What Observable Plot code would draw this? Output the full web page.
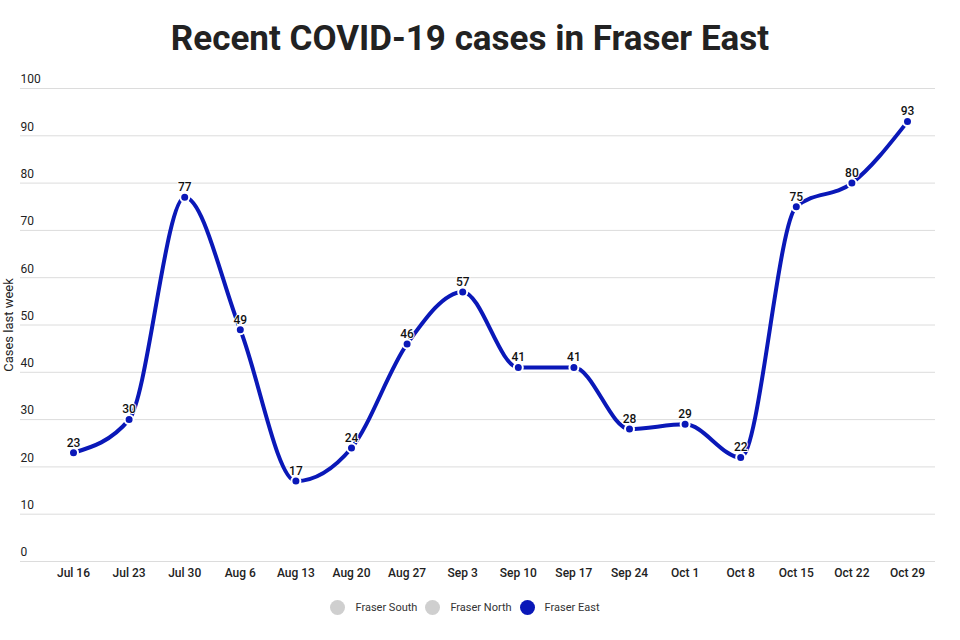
<!DOCTYPE html>
<html>
<head>
<meta charset="utf-8">
<script src="https://cdn.jsdelivr.net/npm/d3@7"></script>
<script src="https://cdn.jsdelivr.net/npm/@observablehq/plot@0.6"></script>
<style>
  html, body { margin: 0; padding: 0; background: #fff; width: 960px; height: 640px; overflow: hidden; }
  body { font-family: Roboto, "Noto Sans", sans-serif; }
  #title { height: 70px; line-height: 77px; text-align: center; font-size: 35px; font-weight: 700; color: #222; padding-right: 20px; }
  #chart { height: 520px; }
  #legend { display: flex; justify-content: center; align-items: center; font-size: 11px; color: #333; margin-top: 10px; padding-right: 30px; }
  .item { display: flex; align-items: center; margin: 0 4px; }
  .sw { width: 15px; height: 15px; border-radius: 50%; margin-right: 10px; }
</style>
</head>
<body>
<div id="title">Recent COVID-19 cases in Fraser East</div>
<div id="chart"></div>
<div id="legend"></div>
<script>
const dates = ["Jul 16","Jul 23","Jul 30","Aug 6","Aug 13","Aug 20","Aug 27","Sep 3","Sep 10","Sep 17","Sep 24","Oct 1","Oct 8","Oct 15","Oct 22","Oct 29"];
const cases = [23,30,77,49,17,24,46,57,41,41,28,29,22,75,80,93];
const yTicks = [0,10,20,30,40,50,60,70,80,90,100];
const legendLabels = ["Fraser South","Fraser North","Fraser East"];
const legendColors = ["#cfcfcf","#cfcfcf","#0a18b8"];
const yLabel = "Cases last week";

const data = dates.map((d, i) => ({date: d, value: cases[i]}));
const blue = "#0a18b8";

const chart = Plot.plot({
  width: 960,
  height: 520,
  marginTop: 18,
  marginBottom: 29,
  marginLeft: 20,
  marginRight: 25,
  style: {fontFamily: "Roboto, 'Noto Sans', sans-serif", background: "#fff"},
  x: {type: "point", domain: dates, range: [73, 907], padding: 0, round: false, axis: null},
  y: {domain: [0, 100], axis: null},
  marks: [
    Plot.ruleY(yTicks, {stroke: "#dcdcdc", strokeWidth: 1}),
    Plot.text(yTicks, {y: d => d, text: d => String(d), frameAnchor: "left", textAnchor: "start", dy: -9, fontSize: 12, fill: "#222"}),
    Plot.text([yLabel], {frameAnchor: "left", textAnchor: "middle", text: d => d, rotate: -90, dx: -12, fontSize: 13, fill: "#222"}),
    Plot.text(dates, {x: d => d, text: d => d, frameAnchor: "bottom", lineAnchor: "middle", dy: 12, fontSize: 12, fill: "#222", fontWeight: 500}),
    Plot.line(data, {x: "date", y: "value", curve: "monotone-x", stroke: blue, strokeWidth: 4}),
    Plot.dot(data, {x: "date", y: "value", r: 4.5, fill: blue, stroke: "#fff", strokeWidth: 2}),
    Plot.text(data, {x: "date", y: "value", text: d => String(d.value), dy: -10, fontSize: 12, fontWeight: 500, fill: "#111", stroke: "#fff", strokeWidth: 2})
  ]
});
document.getElementById("chart").appendChild(chart);

const legend = document.getElementById("legend");
legendLabels.forEach((l, i) => {
  const it = document.createElement("div");
  it.className = "item";
  const sw = document.createElement("span");
  sw.className = "sw";
  sw.style.background = legendColors[i];
  const tx = document.createElement("span");
  tx.textContent = l;
  it.appendChild(sw); it.appendChild(tx);
  legend.appendChild(it);
});
</script>
</body>
</html>
